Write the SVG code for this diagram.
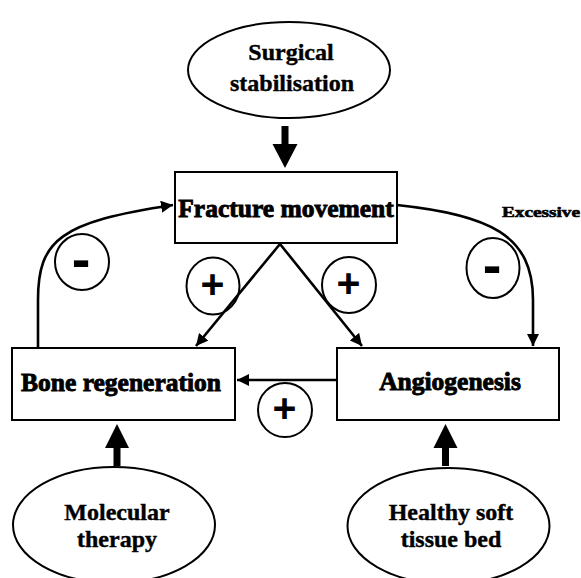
<svg xmlns="http://www.w3.org/2000/svg" width="581" height="578" viewBox="0 0 581 578">
<style>
.box{fill:#fff;stroke:#000;stroke-width:2}
.ell{fill:#fff;stroke:#000;stroke-width:2}
.sign{fill:none;stroke:#000;stroke-width:2}
.bt{font-family:"Liberation Serif","Times New Roman",serif;font-weight:bold;font-size:25.5px;text-anchor:middle;fill:#000;stroke:#000;stroke-width:0.9}
.et{font-family:"Liberation Serif","Times New Roman",serif;font-weight:bold;font-size:24px;text-anchor:middle;fill:#000;stroke:#000;stroke-width:0.4}
.pl{font-family:"Liberation Sans",Arial,sans-serif;font-weight:bold;font-size:41px;text-anchor:middle;fill:#000}
.mi{font-family:"Liberation Sans",Arial,sans-serif;font-weight:bold;font-size:56px;text-anchor:middle;fill:#000}
.ln{fill:none;stroke:#000;stroke-width:2.6}
.blk{fill:#000;stroke:none}
</style>
<defs>
<marker id="ah" markerUnits="userSpaceOnUse" markerWidth="14" markerHeight="12" refX="12" refY="6" orient="auto">
<path d="M0,0 L12,6 L0,12 Z" fill="#000"/>
</marker>
</defs>
<rect width="581" height="578" fill="#fff"/>
<g id="connectors">
<path class="ln" d="M280,244 L196,346" marker-end="url(#ah)"/>
<path class="ln" d="M280,244 L362,346" marker-end="url(#ah)"/>
<path class="ln" d="M337,380 L237,380" marker-end="url(#ah)"/>
<path class="ln" d="M38,348 L38,300 C38,240 60,222 173,205" marker-end="url(#ah)"/>
<path class="ln" d="M397,205 C490,215 533,235 533,300 L533,346" marker-end="url(#ah)"/>
<polygon class="blk" points="281.5,126 288.5,126 288.5,144 297.5,144 285,168 272.5,144 281.5,144"/>
<polygon class="blk" points="113.5,466 120.5,466 120.5,448 129,448 117,424 105,448 113.5,448"/>
<polygon class="blk" points="442,466 449,466 449,448 457.5,448 445.5,424 433.5,448 442,448"/>
</g>
<g id="surgical">
<ellipse class="ell" cx="289" cy="70" rx="101" ry="48"/>
<text class="et" x="291" y="60">Surgical</text>
<text class="et" x="292" y="91">stabilisation</text>
</g>
<g id="fracture">
<rect class="box" x="175" y="172" width="222" height="71"/>
<text class="bt" x="286" y="217">Fracture movement</text>
</g>
<g id="bone">
<rect class="box" x="12" y="348" width="223" height="72"/>
<text class="bt" x="121" y="391">Bone regeneration</text>
</g>
<g id="angio">
<rect class="box" x="337" y="348" width="222" height="72"/>
<text class="bt" x="450" y="390">Angiogenesis</text>
</g>
<g id="molecular">
<ellipse class="ell" cx="114" cy="525" rx="101" ry="58"/>
<text class="et" x="117" y="520">Molecular</text>
<text class="et" x="117" y="547">therapy</text>
</g>
<g id="healthy">
<ellipse class="ell" cx="448.5" cy="526" rx="101" ry="58"/>
<text class="et" x="451" y="520">Healthy soft</text>
<text class="et" x="451" y="547">tissue bed</text>
</g>
<g id="sign-minus-left">
<ellipse class="sign" cx="82" cy="262" rx="27" ry="28"/>
<text class="mi" x="81" y="278">-</text>
</g>
<g id="sign-plus-left">
<ellipse class="sign" cx="213" cy="286" rx="26.5" ry="28.5"/>
<text class="pl" x="212.5" y="298">+</text>
</g>
<g id="sign-plus-right">
<ellipse class="sign" cx="349" cy="285" rx="27" ry="28"/>
<text class="pl" x="348.5" y="297">+</text>
</g>
<g id="sign-minus-right">
<ellipse class="sign" cx="493" cy="268" rx="26.5" ry="30"/>
<text class="mi" x="492" y="284">-</text>
</g>
<g id="sign-plus-bottom">
<ellipse class="sign" cx="285" cy="410" rx="27" ry="27"/>
<text class="pl" x="284.5" y="422">+</text>
</g>
<g id="label-excessive">
<text x="502" y="217" font-family="Liberation Serif,'Times New Roman',serif" font-weight="bold" font-size="14.5" textLength="78" lengthAdjust="spacingAndGlyphs" stroke="#000" stroke-width="0.6">Excessive</text>
</g>
</svg>
